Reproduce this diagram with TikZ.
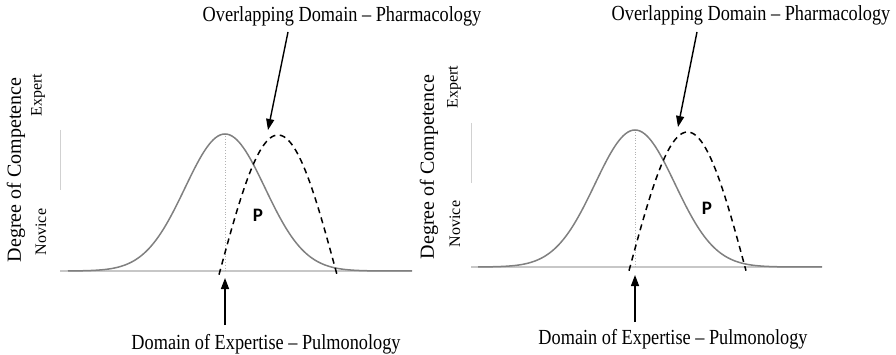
\documentclass[tikz,border=0pt]{standalone}
\usepackage{fontspec}
\setmainfont{Liberation Serif}
\newfontfamily\pfont{Carlito}
\usetikzlibrary{arrows.meta}
\newcommand{\condtxt}[1]{\scalebox{0.85}[1]{#1}}
\begin{document}
\begin{tikzpicture}[x=1pt,y=-1pt,
  lbl/.style={font=\fontsize{21.5}{24}\selectfont, inner sep=0pt},
  axlbl/.style={font=\fontsize{20}{24}\selectfont, rotate=90, inner sep=0pt},
  lvl/.style={font=\fontsize{16}{19}\selectfont, rotate=90, inner sep=0pt},
  pl/.style={font=\pfont\bfseries\fontsize{19}{21}\selectfont, inner sep=0pt},
  base/.style={draw=black!22, line width=1.5pt},
  tickline/.style={draw=black!18, line width=1pt},
  bell/.style={draw=black!50, line width=1.5pt},
  arch/.style={draw=black, line width=1.5pt, dash pattern=on 6pt off 4.5pt},
  mid/.style={draw=black!30, line width=0.8pt, dotted},
  pointer/.style={draw=black, line width=1.4pt, -{Triangle[length=11pt,width=8pt]}}]
\useasboundingbox (0,0) rectangle (896,355);
% ---------- left panel ----------
\draw[base] (60,271) -- (412,271);
\draw[tickline] (60,130) -- (60,190);
\draw[mid] (225,136) -- (225,271);
\draw[bell] plot[domain=68:412, samples=150] (\x, {271 - 137*exp(-0.5*((\x-225)/40)^2)});
\draw[arch] plot[domain=219:337, samples=100] (\x, {271 - 136*cos(90*(\x-278)/58)});
\node[pl] (pL) at (258,215) {P};
\node[axlbl] (degL) at (16,170) {Degree of Competence};
\node[lvl] (expL) at (38,95) {Expert};
\node[lvl] (novL) at (41,232) {Novice};
\node[lbl] (topL) at (342,16) {\condtxt{Overlapping Domain -- Pharmacology}};
\node[lbl] (botL) at (266,344) {\condtxt{Domain of Expertise -- Pulmonology}};
\coordinate (aL1) at (288,32);
\coordinate (aL2) at (268,130);
\draw[pointer] (aL1) -- (aL2);
\coordinate (bL1) at (225,325);
\coordinate (bL2) at (225,278);
\draw[pointer] (bL1) -- (bL2);
% ---------- right panel ----------
\draw[base] (471,267) -- (822,267);
\draw[tickline] (471,123) -- (471,183);
\draw[mid] (635,132) -- (635,267);
\draw[bell] plot[domain=478:822, samples=150] (\x, {267 - 137*exp(-0.5*((\x-635)/40)^2)});
\draw[arch] plot[domain=629:746, samples=100] (\x, {267 - 135*cos(90*(\x-687.5)/57.5)});
\node[pl] (pR) at (707,208) {P};
\node[axlbl] (degR) at (429,167) {Degree of Competence};
\node[lvl] (expR) at (454,87) {Expert};
\node[lvl] (novR) at (455,224) {Novice};
\node[lbl] (topR) at (751,15) {\condtxt{Overlapping Domain -- Pharmacology}};
\node[lbl] (botR) at (673,339) {\condtxt{Domain of Expertise -- Pulmonology}};
\coordinate (aR1) at (697,32);
\coordinate (aR2) at (678,127);
\draw[pointer] (aR1) -- (aR2);
\coordinate (bR1) at (635,322);
\coordinate (bR2) at (635,275);
\draw[pointer] (bR1) -- (bR2);
\end{tikzpicture}
\end{document}
